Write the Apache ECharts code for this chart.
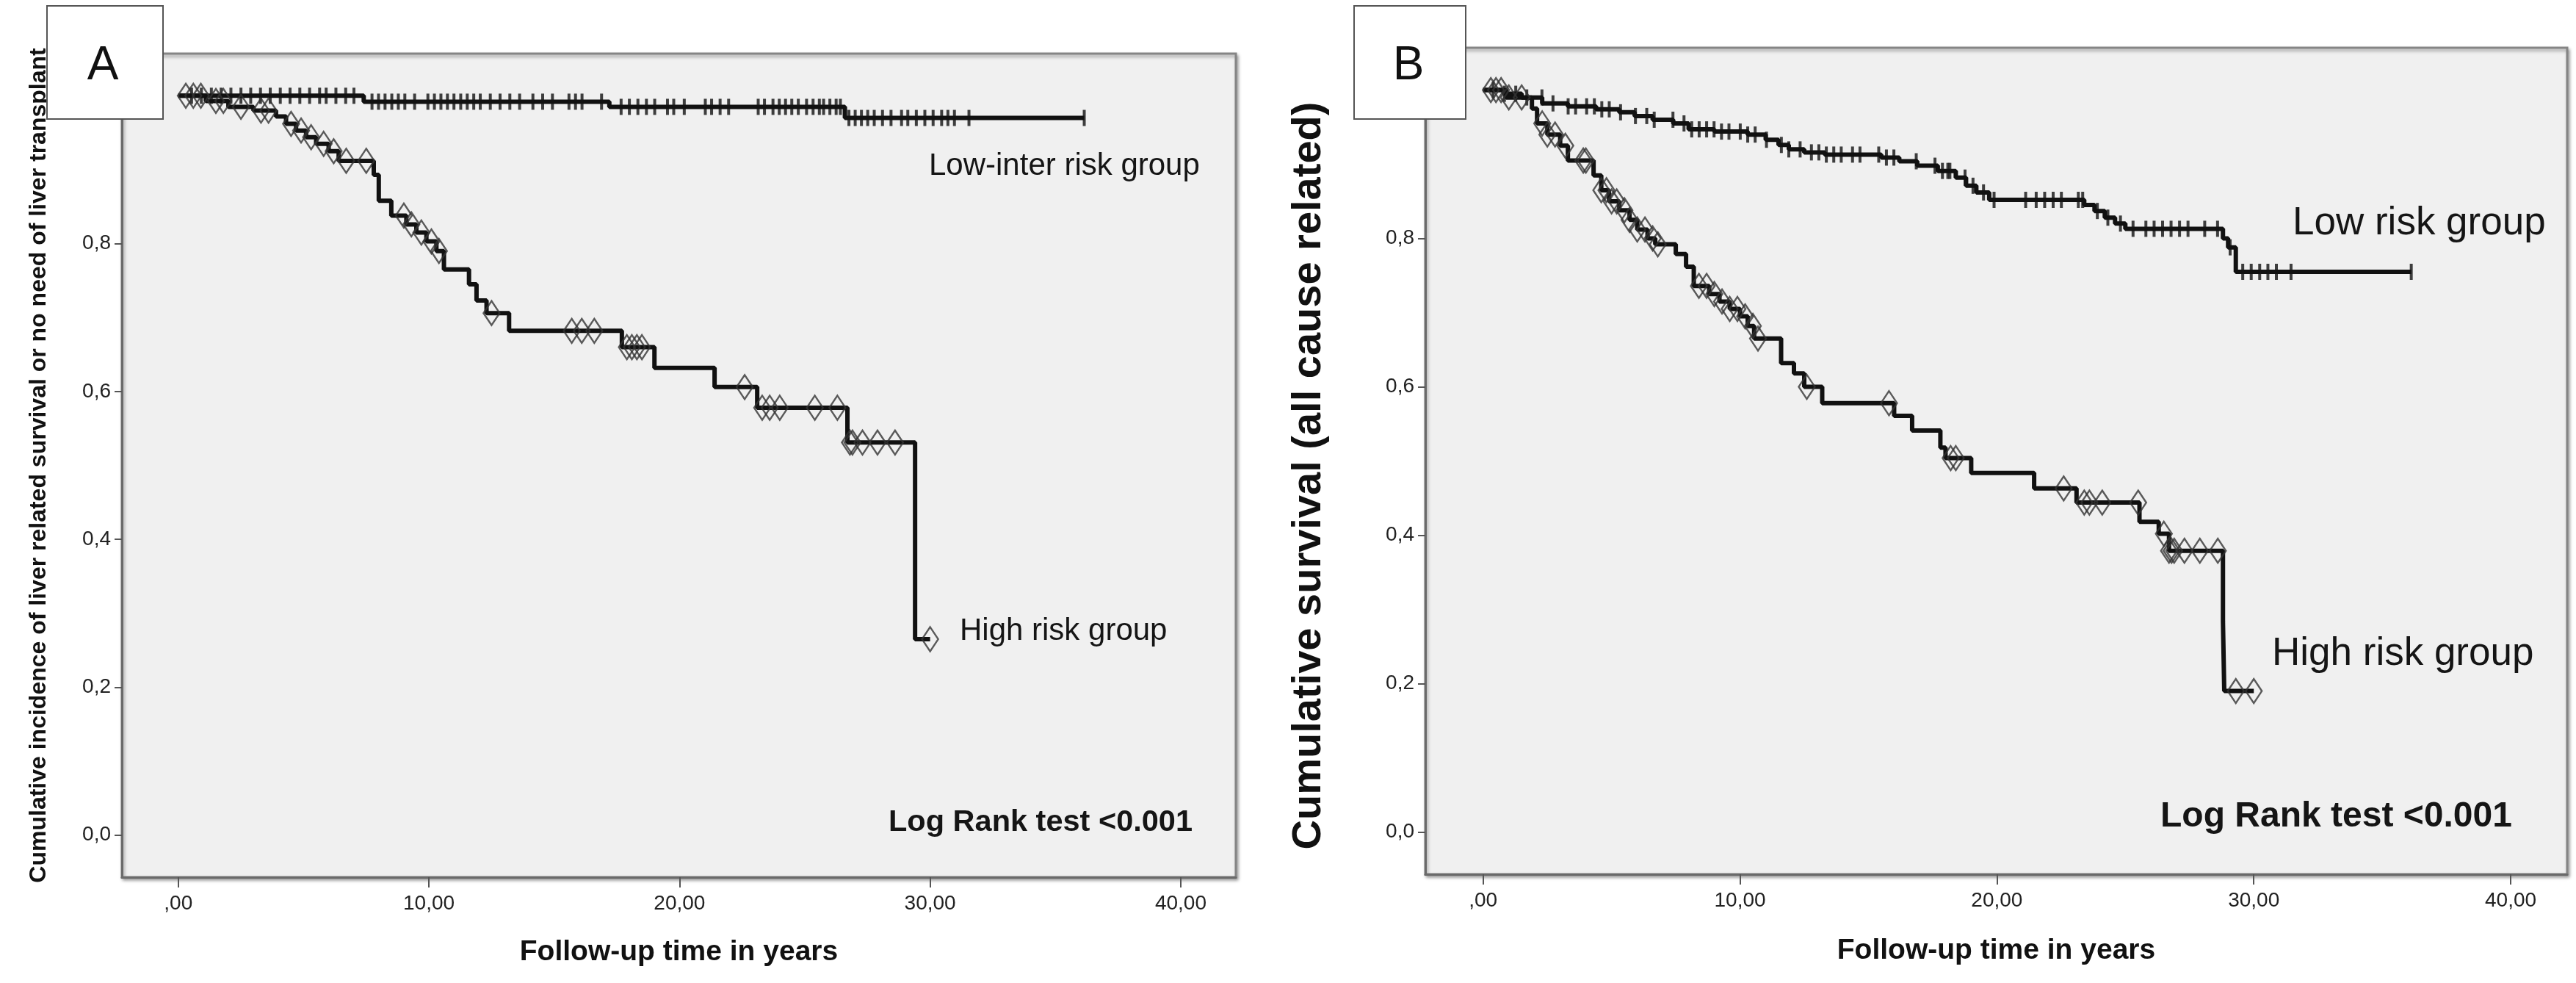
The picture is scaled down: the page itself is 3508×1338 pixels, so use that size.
<!DOCTYPE html>
<html>
<head>
<meta charset="utf-8">
<script src="https://cdn.jsdelivr.net/npm/echarts@6.0.0/dist/echarts.min.js"></script>
<style>
  html, body { margin: 0; padding: 0; background: #ffffff; }
  #chart { width: 3508px; height: 1338px; }
</style>
</head>
<body>
<div id="chart"></div>
<script>
// ---------- axis ticks ----------
const xTickValues = [0, 10, 20, 30, 40];
const yTickValues = [0, 0.2, 0.4, 0.6, 0.8];

// ---------- Panel A : low-inter risk group ----------
const aLowEventTimes = [7.4, 17.2, 26.6];
const aLowEventSurv  = [0.992, 0.985, 0.970];
const aLowEnd = 36.15;
const aLowCensor = [0.53, 0.92, 1.32, 1.71, 2.1, 2.5, 2.89, 3.28, 3.67, 4.07, 4.46, 4.85, 5.24, 5.64, 5.9,
  6.29, 6.68, 7.01, 7.73, 7.99, 8.25, 8.52, 8.78, 9.04, 9.43, 9.96, 10.22, 10.48, 10.74, 11.0, 11.27,
  11.53, 11.79, 12.05, 12.45, 12.84, 13.23, 13.62, 14.15, 14.54, 14.93, 15.59, 15.85, 16.11, 16.89,
  17.67, 18.0, 18.34, 18.68, 19.01, 19.52, 19.77, 20.19, 21.03, 21.28, 21.62, 21.96, 23.14, 23.39,
  23.73, 23.98, 24.23, 24.48, 24.74, 25.07, 25.33, 25.58, 25.75, 26.0, 26.25, 26.42, 26.76, 27.01,
  27.26, 27.51, 27.77, 28.1, 28.44, 28.86, 29.11, 29.45, 29.79, 30.12, 30.46, 30.71, 30.97, 31.55, 36.15];

// ---------- Panel A : high risk group ----------
const aHighEventTimes = [1.1, 2.0, 3.0, 3.9, 4.3, 4.7, 5.1, 5.5, 6.0, 6.4, 7.8, 8.0, 8.5, 9.1, 9.5, 9.9,
  10.3, 10.6, 11.6, 11.9, 12.3, 13.2, 17.7, 19.0, 21.4, 23.1, 26.7, 29.4];
const aHighEventSurv  = [0.993, 0.985, 0.98, 0.972, 0.962, 0.953, 0.944, 0.935, 0.925, 0.912, 0.893, 0.858,
  0.838, 0.826, 0.815, 0.803, 0.79, 0.765, 0.745, 0.723, 0.706, 0.682, 0.660, 0.632, 0.606, 0.578, 0.531, 0.265];
const aHighEnd = 30.0;
const aHighCensor = [0.3, 0.6, 0.9, 1.5, 1.8, 2.5, 3.3, 3.6, 4.5, 4.9, 5.3, 5.8, 6.2, 6.7, 7.5, 9.0, 9.3,
  9.7, 10.1, 10.4, 12.5, 15.7, 16.1, 16.6, 17.9, 18.1, 18.3, 18.5, 22.6, 23.3, 23.6, 24.0, 25.4, 26.3,
  26.8, 26.9, 27.3, 27.9, 28.6, 30.0];

// ---------- Panel B : low risk group ----------
const bLowEventTimes = [0.8, 1.5, 2.3, 3.3, 4.4, 5.3, 5.9, 6.6, 7.4, 8.0, 9.0, 10.3, 11.0, 11.5, 11.9, 12.5,
  13.3, 15.5, 16.2, 16.9, 17.7, 18.4, 18.8, 19.2, 19.7, 23.4, 23.8, 24.2, 24.6, 25.0, 28.8, 29.0, 29.3];
const bLowEventSurv  = [0.995, 0.99, 0.982, 0.978, 0.974, 0.97, 0.965, 0.96, 0.955, 0.947, 0.944, 0.94, 0.933,
  0.926, 0.92, 0.916, 0.913, 0.909, 0.904, 0.898, 0.891, 0.882, 0.871, 0.862, 0.852, 0.845, 0.837, 0.828,
  0.82, 0.813, 0.80, 0.788, 0.755];
const bLowEnd = 36.13;
const bLowCensor = [0.39, 0.83, 1.27, 1.7, 2.29, 2.72, 3.31, 3.6, 4.03, 4.33, 4.62, 4.91, 5.35, 5.93, 6.37,
  6.66, 7.39, 7.82, 8.12, 8.41, 8.7, 8.99, 9.28, 9.57, 10.01, 10.3, 10.59, 11.03, 11.61, 11.9, 12.34,
  12.78, 13.07, 13.36, 13.65, 13.94, 14.38, 14.67, 15.4, 15.7, 15.99, 16.86, 17.59, 17.88, 18.09, 18.17,
  18.76, 19.07, 19.48, 19.89, 21.12, 21.53, 21.86, 22.19, 22.51, 23.17, 23.34, 23.91, 24.32, 24.81,
  25.3, 25.8, 26.12, 26.45, 26.78, 27.11, 27.44, 28.09, 28.59, 29.08, 29.57, 29.9, 30.23, 30.55,
  30.88, 31.45, 36.13];

// ---------- Panel B : high risk group ----------
const bHighEventTimes = [0.9, 1.9, 2.1, 2.5, 3.0, 3.3, 4.3, 4.6, 4.9, 5.3, 5.7, 6.0, 6.4, 6.7, 7.5, 7.9,
  8.2, 8.8, 9.2, 9.6, 10.0, 10.3, 10.55, 11.6, 12.1, 12.5, 13.2, 16.0, 16.7, 17.8, 18.0, 19.0, 21.45,
  23.1, 25.55, 26.3, 26.7, 28.8, 28.85];
const bHighEventSurv  = [0.99, 0.975, 0.955, 0.94, 0.925, 0.905, 0.885, 0.865, 0.85, 0.838, 0.825, 0.812,
  0.80, 0.792, 0.779, 0.762, 0.736, 0.725, 0.715, 0.705, 0.695, 0.682, 0.665, 0.632, 0.618, 0.60, 0.578,
  0.561, 0.541, 0.518, 0.504, 0.484, 0.463, 0.444, 0.418, 0.402, 0.379, 0.284, 0.19];
const bHighEnd = 30.0;
const bHighCensor = [0.3, 0.5, 0.7, 1.0, 1.5, 2.3, 2.5, 2.8, 3.2, 3.9, 4.0, 4.6, 4.8, 5.0, 5.2, 5.5, 5.7,
  6.0, 6.3, 6.6, 6.8, 8.4, 8.7, 9.0, 9.3, 9.6, 9.9, 10.2, 10.5, 10.7, 12.6, 15.8, 18.2, 18.4, 22.6,
  23.4, 23.6, 24.1, 25.5, 26.5, 26.7, 26.8, 26.9, 27.3, 27.9, 28.6, 29.3, 30.0];

// ---------- helpers ----------
function buildSteps(times, surv, end) {
  const pts = [[0, 1.0]];
  for (let i = 0; i < times.length; i++) pts.push([times[i], surv[i]]);
  pts.push([end, surv[surv.length - 1]]);
  return pts;
}
function survAt(times, surv, t) {
  let v = 1.0;
  for (let i = 0; i < times.length; i++) { if (times[i] <= t) v = surv[i]; }
  return v;
}
function censorPts(times, surv, cens) {
  return cens.map(t => [t, survAt(times, surv, t)]);
}
const xFmt = v => (v === 0 ? ',00' : v.toFixed(2).replace('.', ','));
const yFmt = v => v.toFixed(1).replace('.', ',');

const FONT = '"Liberation Sans", Arial, sans-serif';
const gridStyle = {
  show: true, backgroundColor: '#f0f0f0', borderColor: '#858585', borderWidth: 3,
  shadowColor: 'rgba(0,0,0,0.35)', shadowBlur: 4, shadowOffsetX: 2, shadowOffsetY: 3
};

function xAxisCfg(gridIndex, gap) {
  return {
    type: 'value', gridIndex, min: -2.25, max: 42.2,
    name: 'Follow-up time in years', nameLocation: 'middle', nameGap: gap,
    nameTextStyle: { fontFamily: FONT, fontSize: 39, fontWeight: 'bold', color: '#111' },
    axisLine: { show: true, onZero: false, lineStyle: { color: '#6a6a6a', width: 3 } },
    axisTick: { show: true, inside: false, length: 14, customValues: xTickValues, lineStyle: { color: '#555', width: 2 } },
    axisLabel: { show: true, customValues: xTickValues, formatter: xFmt, margin: 22,
      fontFamily: FONT, fontSize: 28, color: '#222' },
    splitLine: { show: false }
  };
}
function yAxisCfg(gridIndex, name, fontSize, gap, padding) {
  return {
    type: 'value', gridIndex, min: -0.057, max: 1.057,
    name, nameLocation: 'middle', nameGap: gap, nameRotate: 90,
    nameTextStyle: { fontFamily: FONT, fontSize, fontWeight: 'bold', color: '#111', padding },
    axisLine: { show: true, onZero: false, lineStyle: { color: '#6a6a6a', width: 3 } },
    axisTick: { show: true, inside: false, length: 10, customValues: yTickValues, lineStyle: { color: '#555', width: 2 } },
    axisLabel: { show: true, customValues: yTickValues, formatter: yFmt, margin: 15,
      fontFamily: FONT, fontSize: 28, color: '#222' },
    splitLine: { show: false }
  };
}
function curve(xi, data) {
  return { type: 'line', xAxisIndex: xi, yAxisIndex: xi, step: 'end', data, symbol: 'none',
    lineStyle: { color: '#111', width: 6 }, silent: true, z: 3 };
}
function plusMarks(xi, data) {
  return { type: 'scatter', xAxisIndex: xi, yAxisIndex: xi, data, symbol: 'rect', symbolSize: [4, 22],
    itemStyle: { color: '#111' }, silent: true, z: 4 };
}
function diamondMarks(xi, data) {
  return { type: 'scatter', xAxisIndex: xi, yAxisIndex: xi, data, symbol: 'diamond', symbolSize: [22, 33],
    itemStyle: { color: 'rgba(0,0,0,0)', borderColor: '#333', borderWidth: 2.5 }, silent: true, z: 4 };
}
function label(text, x, y, size, bold) {
  return { type: 'text', x, y, z: 50, silent: true,
    style: { text, fontFamily: FONT, fontSize: size, fontWeight: bold ? 'bold' : 'normal', fill: '#151515',
      align: 'left', verticalAlign: 'middle' } };
}

const option = {
  animation: false,
  backgroundColor: '#ffffff',
  grid: [
    Object.assign({ left: 166, top: 73, width: 1517, height: 1121 }, gridStyle),
    Object.assign({ left: 1941, top: 65, width: 1555, height: 1125 }, gridStyle)
  ],
  xAxis: [xAxisCfg(0, 83), xAxisCfg(1, 85)],
  yAxis: [
    yAxisCfg(0, 'Cumulative incidence of liver related survival or no need of liver transplant', 32, 97, [0, 0, 0, 0]),
    yAxisCfg(1, 'Cumulative survival (all cause related)', 56, 130, [0, 40, 0, 0])
  ],
  series: [
    curve(0, buildSteps(aLowEventTimes, aLowEventSurv, aLowEnd)),
    plusMarks(0, censorPts(aLowEventTimes, aLowEventSurv, aLowCensor)),
    curve(0, buildSteps(aHighEventTimes, aHighEventSurv, aHighEnd)),
    diamondMarks(0, censorPts(aHighEventTimes, aHighEventSurv, aHighCensor)),
    curve(1, buildSteps(bLowEventTimes, bLowEventSurv, bLowEnd)),
    plusMarks(1, censorPts(bLowEventTimes, bLowEventSurv, bLowCensor)),
    curve(1, buildSteps(bHighEventTimes, bHighEventSurv, bHighEnd)),
    diamondMarks(1, censorPts(bHighEventTimes, bHighEventSurv, bHighCensor))
  ],
  graphic: [
    { type: 'rect', z: 60, silent: true, shape: { x: 64, y: 8, width: 158, height: 154 },
      style: { fill: '#ffffff', stroke: '#555', lineWidth: 2 } },
    { type: 'text', x: 140, y: 90, z: 61, silent: true,
      style: { text: 'A', fontFamily: FONT, fontSize: 64, fill: '#111', align: 'center', verticalAlign: 'middle' } },
    { type: 'rect', z: 60, silent: true, shape: { x: 1844, y: 8, width: 152, height: 154 },
      style: { fill: '#ffffff', stroke: '#555', lineWidth: 2 } },
    { type: 'text', x: 1918, y: 90, z: 61, silent: true,
      style: { text: 'B', fontFamily: FONT, fontSize: 64, fill: '#111', align: 'center', verticalAlign: 'middle' } },
    label('Low-inter risk group', 1265, 226, 42, false),
    label('High risk group', 1307, 859, 42, false),
    label('Log Rank test <0.001', 1210, 1120, 41.5, true),
    label('Low risk group', 3122, 304, 53, false),
    label('High risk group', 3094, 890, 53, false),
    label('Log Rank test <0.001', 2942, 1112, 48, true)
  ]
};

const chart = echarts.init(document.getElementById('chart'), null, { width: 3508, height: 1338 });
chart.setOption(option);
</script>
</body>
</html>
